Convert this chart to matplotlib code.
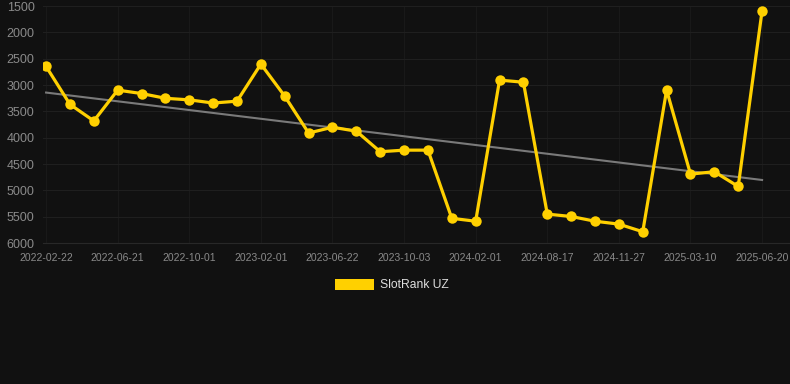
"""Rank history of a slot with a linear trend line, dark theme."""
import matplotlib
matplotlib.use("Agg")
import matplotlib.pyplot as plt
import numpy as np
from matplotlib.patches import Patch

# ranks, one per sample (31 samples)
ranks = [2645, 3365, 3680, 3095, 3160, 3250, 3280, 3340, 3305, 2600,
         3210, 3910, 3800, 3875, 4265, 4235, 4235, 5530, 5585, 2905,
         2945, 5450, 5495, 5585, 5640, 5785, 3095, 4690, 4645, 4925,
         1590]
# every third sample carries a date label
tick_labels = ["2022-02-22", "2022-06-21", "2022-10-01", "2023-02-01",
               "2023-06-22", "2023-10-03", "2024-02-01", "2024-08-17",
               "2024-11-27", "2025-03-10", "2025-06-20"]
series_name = "SlotRank UZ"

BG = "#111111"
YELLOW = "#FFD000"
TXT = "#8a8a8a"

plt.rcParams["font.family"] = ["Liberation Sans", "DejaVu Sans"]

x = np.arange(len(ranks))
y = np.array(ranks, dtype=float)
slope, icpt = np.polyfit(x, y, 1)

fig = plt.figure(figsize=(7.9, 3.84), dpi=100, facecolor=BG)
ax = fig.add_axes([0.0544, 0.367, 0.9456, 0.617], facecolor=BG)

ax.plot(x, slope * x + icpt, color="#7a7a7a", lw=1.5, zorder=2)
ax.plot(x, y, color=YELLOW, lw=2.3, marker="o", ms=7.5,
        markeredgewidth=0, zorder=3)

ax.set_ylim(6000, 1500)
ax.set_yticks(np.arange(1500, 6001, 500))
ax.set_xlim(-0.13, 31.17)
ax.set_xticks(x[::3])
ax.set_xticklabels(tick_labels)

ax.grid(True, axis="y", color="#1f1f1f", lw=0.8)
ax.grid(True, axis="x", color="#191919", lw=0.8)
ax.set_axisbelow(True)
for s in ax.spines.values():
    s.set_visible(False)
ax.spines["bottom"].set_visible(True)
ax.spines["bottom"].set_color("#282828")
ax.spines["bottom"].set_linewidth(0.8)
ax.tick_params(axis="y", length=0, pad=6, labelsize=9, labelcolor=TXT)
ax.tick_params(axis="x", length=0, pad=7, labelsize=7.5, labelcolor=TXT)

handle = Patch(facecolor=YELLOW, edgecolor="none")
fig.legend([handle], [series_name], loc="center", bbox_to_anchor=(0.496, 0.258),
           frameon=False, fontsize=8.7, labelcolor="#dddddd",
           handlelength=3.3, handleheight=1.05, handletextpad=0.5)

fig.savefig("out.png", dpi=100, facecolor=BG)
